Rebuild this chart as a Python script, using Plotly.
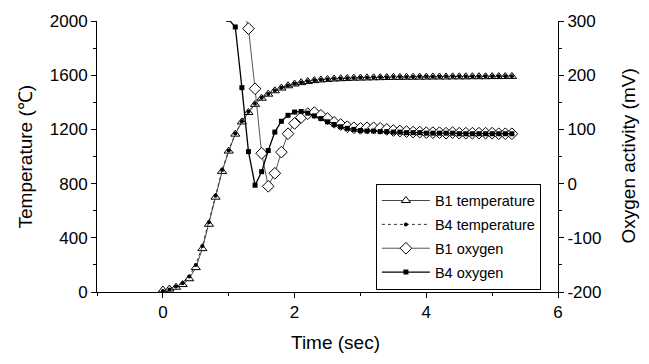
import plotly.graph_objects as go

# ---- data ----
time = [0.0, 0.1, 0.2, 0.3, 0.4, 0.5, 0.6, 0.7, 0.8, 0.9,
        1.0, 1.1, 1.2, 1.3, 1.4, 1.5, 1.6, 1.7, 1.8, 1.9,
        2.0, 2.1, 2.2, 2.3, 2.4, 2.5, 2.6, 2.7, 2.8, 2.9,
        3.0, 3.1, 3.2, 3.3, 3.4, 3.5, 3.6, 3.7, 3.8, 3.9,
        4.0, 4.1, 4.2, 4.3, 4.4, 4.5, 4.6, 4.7, 4.8, 4.9,
        5.0, 5.1, 5.2, 5.3]

b1_temperature = [15, 22, 35, 55, 98, 180, 320, 500, 700, 890,
                  1040, 1165, 1255, 1325, 1385, 1430, 1460, 1485, 1505, 1522,
                  1535, 1545, 1553, 1560, 1565, 1569, 1572, 1574, 1576, 1578,
                  1579, 1580, 1581, 1582, 1583, 1584, 1584, 1585, 1585, 1586,
                  1586, 1587, 1587, 1587, 1588, 1588, 1588, 1589, 1589, 1589,
                  1590, 1590, 1590, 1591]

b4_temperature = [8, 18, 40, 65, 115, 200, 340, 515, 710, 900,
                  1045, 1170, 1260, 1330, 1390, 1433, 1462, 1488, 1508, 1524,
                  1537, 1547, 1555, 1562, 1567, 1571, 1574, 1576, 1578, 1580,
                  1581, 1582, 1583, 1584, 1585, 1586, 1586, 1587, 1587, 1588,
                  1588, 1589, 1589, 1590, 1590, 1590, 1591, 1591, 1591, 1592,
                  1592, 1592, 1593, 1593]

time_b4_oxygen = [1.0, 1.1, 1.2, 1.3, 1.4, 1.5, 1.6, 1.7, 1.8, 1.9,
                  2.0, 2.1, 2.2, 2.3, 2.4, 2.5, 2.6, 2.7, 2.8, 2.9,
                  3.0, 3.1, 3.2, 3.3, 3.4, 3.5, 3.6, 3.7, 3.8, 3.9,
                  4.0, 4.1, 4.2, 4.3, 4.4, 4.5, 4.6, 4.7, 4.8, 4.9,
                  5.0, 5.1, 5.2, 5.3]
b4_oxygen = [303, 289, 177, 59, -3, 22, 61, 95, 115, 126,
             132, 133, 130, 125, 120, 114, 109, 105, 102, 100,
             98, 97, 97, 96, 96, 95, 95, 94, 94, 94,
             93, 93, 93, 93, 93, 92, 92, 92, 92, 92,
             92, 92, 92, 92]

time_b1_oxygen = [1.2, 1.3, 1.4, 1.5, 1.6, 1.7, 1.8, 1.9,
                  2.0, 2.1, 2.2, 2.3, 2.4, 2.5, 2.6, 2.7, 2.8, 2.9,
                  3.0, 3.1, 3.2, 3.3, 3.4, 3.5, 3.6, 3.7, 3.8, 3.9,
                  4.0, 4.1, 4.2, 4.3, 4.4, 4.5, 4.6, 4.7, 4.8, 4.9,
                  5.0, 5.1, 5.2, 5.3]
b1_oxygen = [340, 286, 175, 56, -5, 19, 58, 92,
             111, 122, 129, 131, 126, 120, 113, 109, 105, 103,
             102, 103, 103, 102, 100, 98, 97, 96, 95, 95,
             94, 94, 94, 93, 94, 93, 93, 93, 93, 93,
             93, 92, 92, 92]

x_ticks = [0, 2, 4, 6]
temp_ticks = [0, 400, 800, 1200, 1600, 2000]
oxy_ticks = [-200, -100, 0, 100, 200, 300]
oxy_tick_labels = ["-200", "-100", "0", "100", "200", "300"]

FONT = "Arial, 'Liberation Sans', Helvetica, sans-serif"

fig = go.Figure()

fig.add_trace(go.Scatter(
    x=time, y=b1_temperature, name="B1 temperature", mode="lines+markers",
    line=dict(color="#444444", width=1),
    marker=dict(symbol="triangle-up", size=8, color="white",
                line=dict(color="black", width=1)),
    legendgroup="a", yaxis="y"))
fig.add_trace(go.Scatter(
    x=time, y=b4_temperature, name="B4 temperature", mode="lines+markers",
    line=dict(color="#333333", width=1, dash="dot"),
    marker=dict(symbol="circle", size=4, color="black"),
    legendgroup="b", yaxis="y"))
fig.add_trace(go.Scatter(
    x=time_b1_oxygen, y=b1_oxygen, name="B1 oxygen", mode="lines+markers",
    line=dict(color="#555555", width=1),
    marker=dict(symbol="diamond", size=9, color="white",
                line=dict(color="black", width=1)),
    legendgroup="c", yaxis="y2"))
fig.add_trace(go.Scatter(
    x=time_b4_oxygen, y=b4_oxygen, name="B4 oxygen", mode="lines+markers",
    line=dict(color="black", width=1.3),
    marker=dict(symbol="square", size=5, color="black"),
    legendgroup="d", yaxis="y2"))

axis_common = dict(showline=True, linecolor="black", linewidth=1,
                   showgrid=False, zeroline=False, ticks="outside",
                   ticklen=5, tickwidth=1, tickcolor="black",
                   tickfont=dict(size=17, color="black", family=FONT))

fig.update_layout(
    width=649, height=364,
    margin=dict(l=97, r=91, t=19, b=72),
    paper_bgcolor="white", plot_bgcolor="white",
    font=dict(family=FONT, color="black", size=17),
    xaxis=dict(range=[-1, 6], tickvals=x_ticks,
               minor=dict(dtick=1, ticks="outside", ticklen=3, tickcolor="black"),
               **axis_common),
    xaxis2=dict(range=[-1, 6], overlaying="x", side="top", anchor="y",
                showline=True, linecolor="black", linewidth=1,
                showgrid=False, zeroline=False, ticks="inside", ticklen=5,
                dtick=1, tick0=0, tickcolor="black", showticklabels=False),
    yaxis=dict(range=[0, 2000], tickvals=temp_ticks,
               minor=dict(dtick=200, ticks="outside", ticklen=3, tickcolor="black"),
               **axis_common),
    yaxis2=dict(range=[-200, 300], tickvals=oxy_ticks, ticktext=oxy_tick_labels,
                overlaying="y", side="right", anchor="x",
                minor=dict(dtick=50, ticks="outside", ticklen=3, tickcolor="black"),
                **axis_common),
    legend=dict(x=0.605, y=0.40, xanchor="left", yanchor="top",
                bordercolor="black", borderwidth=1, bgcolor="white",
                font=dict(size=14.5, family=FONT, color="black"),
                itemwidth=48,
                tracegroupgap=2, traceorder="grouped"),
    annotations=[
        dict(text="Temperature (℃)", xref="paper", yref="paper", x=0, y=0.5,
             xshift=-72, textangle=-90, showarrow=False,
             xanchor="center", yanchor="middle", font=dict(size=19)),
        dict(text="Oxygen activity (mV)", xref="paper", yref="paper", x=1, y=0.5,
             xshift=70, textangle=-90, showarrow=False,
             xanchor="center", yanchor="middle", font=dict(size=19)),
        dict(text="Time (sec)", xref="paper", yref="paper", x=0.5, y=0,
             xshift=8, yshift=-50, showarrow=False,
             xanchor="center", yanchor="middle", font=dict(size=19)),
    ],
)

fig.write_html("out.html")
